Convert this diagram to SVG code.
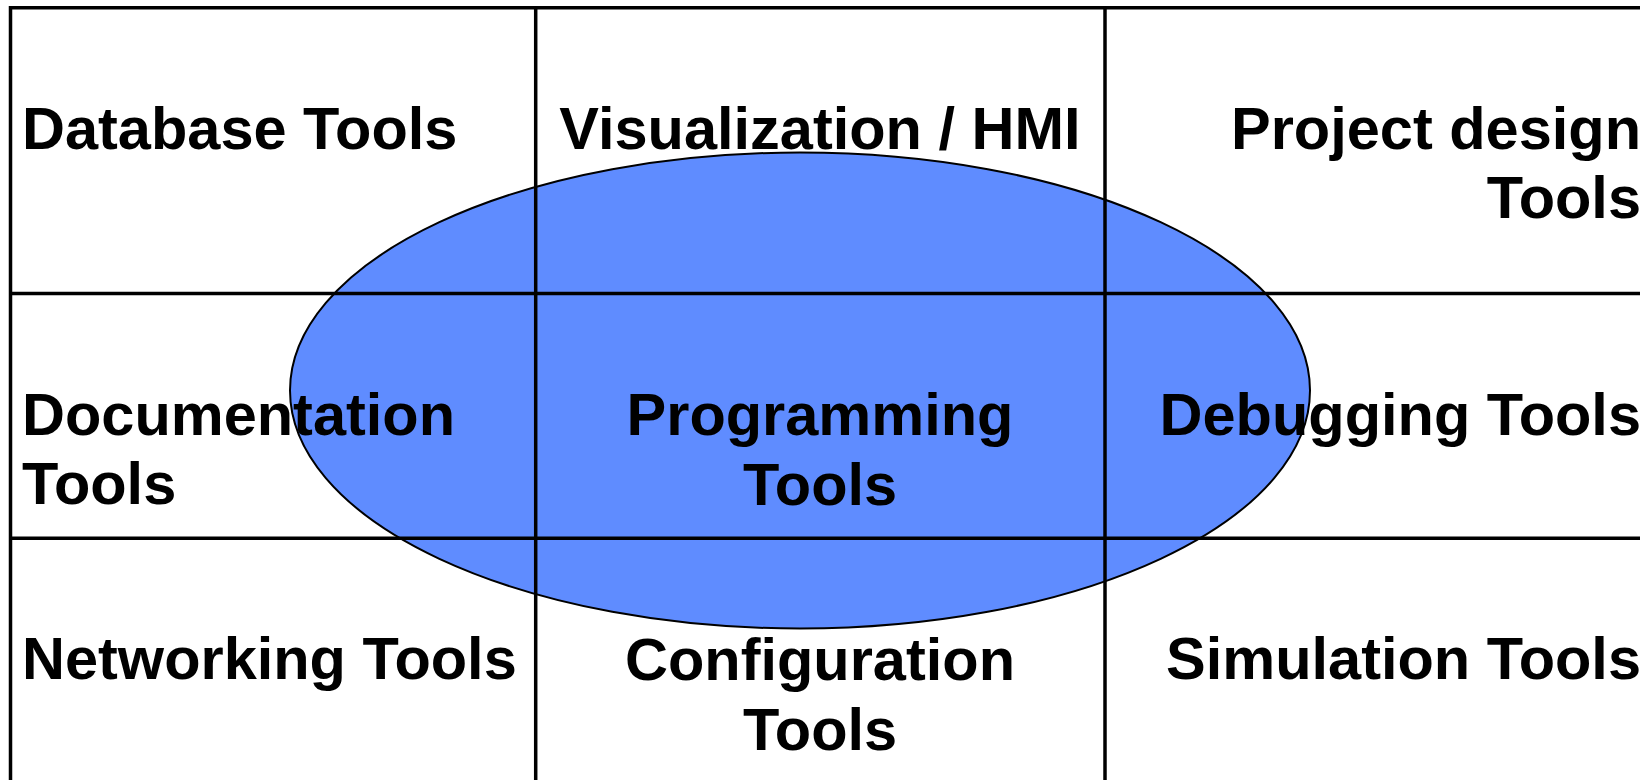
<svg xmlns="http://www.w3.org/2000/svg" width="1640" height="780" viewBox="0 0 1640 780">
  <style>
    .t { font-family: "Liberation Sans", Arial, sans-serif; font-weight: bold; font-size: 59.5px; fill: #000; }
    .l { text-anchor: start; }
    .m { text-anchor: middle; }
    .r { text-anchor: end; }
    .grid line { stroke: #000; stroke-width: 3.5; }
  </style>
  <rect x="0" y="0" width="1640" height="780" fill="#fff"/>
  <g id="programming-ellipse">
    <ellipse cx="800" cy="390.5" rx="510" ry="238" fill="#5f8cff" stroke="#000" stroke-width="2"/>
  </g>
  <g id="grid" class="grid">
    <line x1="10.5" y1="7.7" x2="1640" y2="7.7"/>
    <line x1="10.5" y1="6" x2="10.5" y2="780"/>
    <line x1="535.7" y1="7.7" x2="535.7" y2="780"/>
    <line x1="1105" y1="7.7" x2="1105" y2="780"/>
    <line x1="10.5" y1="293.5" x2="1640" y2="293.5"/>
    <line x1="10.5" y1="538.2" x2="1640" y2="538.2"/>
  </g>
  <g id="database-tools"><text class="t l" x="22" y="149">Database Tools</text></g>
  <g id="visualization-hmi"><text class="t m" x="820" y="149">Visualization / HMI</text></g>
  <g id="project-design-tools"><text class="t r" x="1641" y="149">Project design</text><text class="t r" x="1641" y="218">Tools</text></g>
  <g id="documentation-tools"><text class="t l" x="22" y="435">Documentation</text><text class="t l" x="22" y="504">Tools</text></g>
  <g id="programming-tools"><text class="t m" x="820" y="435">Programming</text><text class="t m" x="820" y="505">Tools</text></g>
  <g id="debugging-tools"><text class="t r" x="1641" y="435">Debugging Tools</text></g>
  <g id="networking-tools"><text class="t l" x="22" y="679">Networking Tools</text></g>
  <g id="configuration-tools"><text class="t m" x="820" y="680">Configuration</text><text class="t m" x="820" y="750">Tools</text></g>
  <g id="simulation-tools"><text class="t r" x="1641" y="679">Simulation Tools</text></g>
</svg>
